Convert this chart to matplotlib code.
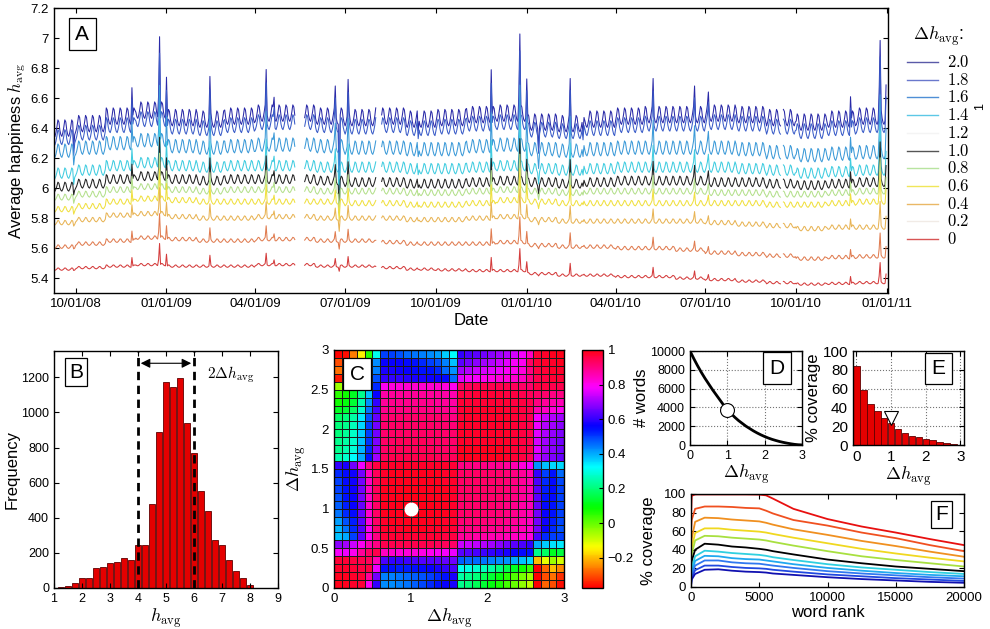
import numpy as np
import pandas as pd
import matplotlib
matplotlib.use('Agg')
import matplotlib.pyplot as plt
from matplotlib.lines import Line2D

plt.rcParams['font.family'] = ['Liberation Sans', 'DejaVu Sans']
plt.rcParams['mathtext.fontset'] = 'cm'
plt.rcParams['xtick.direction'] = 'in'
plt.rcParams['ytick.direction'] = 'in'
plt.rcParams['xtick.top'] = True
plt.rcParams['ytick.right'] = True
plt.rcParams['xtick.labelsize'] = 9.5
plt.rcParams['ytick.labelsize'] = 9.5
plt.rcParams['axes.linewidth'] = 1.0

# ---------------- panel A data: daily happiness time series ----------------
a_start, a_end = '2008-09-10', '2010-12-31'
a_months = pd.period_range('2008-09', '2010-12', freq='M')
# monthly levels (Sep 2008 .. Dec 2010)
lvl_20 = [6.40, 6.43, 6.48, 6.52, 6.47, 6.46, 6.48, 6.50, 6.50, 6.48, 6.47, 6.48, 6.46, 6.47,
          6.49, 6.50, 6.44, 6.43, 6.46, 6.48, 6.49, 6.49, 6.50, 6.49, 6.47, 6.44, 6.46, 6.48]
lvl_18 = [6.34, 6.37, 6.42, 6.46, 6.41, 6.40, 6.42, 6.44, 6.44, 6.42, 6.41, 6.42, 6.40, 6.41,
          6.43, 6.44, 6.39, 6.38, 6.40, 6.42, 6.43, 6.43, 6.44, 6.43, 6.41, 6.38, 6.40, 6.42]
lvl_16 = [6.25, 6.27, 6.30, 6.32, 6.28, 6.27, 6.28, 6.29, 6.29, 6.28, 6.27, 6.27, 6.26, 6.26,
          6.28, 6.29, 6.26, 6.25, 6.26, 6.27, 6.27, 6.27, 6.27, 6.26, 6.24, 6.22, 6.23, 6.24]
lvl_14 = [6.10, 6.12, 6.15, 6.17, 6.15, 6.14, 6.15, 6.15, 6.15, 6.14, 6.14, 6.14, 6.13, 6.13,
          6.14, 6.15, 6.13, 6.12, 6.13, 6.14, 6.14, 6.14, 6.14, 6.13, 6.12, 6.10, 6.11, 6.12]
lvl_10 = [6.01, 6.03, 6.06, 6.08, 6.06, 6.05, 6.06, 6.06, 6.06, 6.05, 6.04, 6.04, 6.03, 6.03,
          6.04, 6.05, 6.04, 6.03, 6.04, 6.05, 6.05, 6.05, 6.04, 6.04, 6.03, 6.02, 6.03, 6.04]
lvl_08 = [5.94, 5.96, 5.99, 6.01, 5.99, 5.98, 5.99, 5.99, 5.99, 5.98, 5.98, 5.98, 5.97, 5.97,
          5.98, 5.99, 5.98, 5.97, 5.98, 5.98, 5.98, 5.98, 5.97, 5.97, 5.96, 5.96, 5.97, 5.98]
lvl_06 = [5.86, 5.88, 5.91, 5.93, 5.92, 5.91, 5.91, 5.91, 5.91, 5.91, 5.90, 5.90, 5.89, 5.89,
          5.90, 5.92, 5.91, 5.90, 5.90, 5.90, 5.90, 5.90, 5.90, 5.90, 5.89, 5.89, 5.90, 5.91]
lvl_04 = [5.77, 5.79, 5.82, 5.83, 5.81, 5.80, 5.80, 5.81, 5.81, 5.80, 5.80, 5.80, 5.79, 5.79,
          5.80, 5.81, 5.79, 5.78, 5.78, 5.78, 5.78, 5.78, 5.77, 5.76, 5.75, 5.73, 5.74, 5.74]
lvl_02 = [5.61, 5.63, 5.65, 5.67, 5.66, 5.65, 5.65, 5.66, 5.66, 5.65, 5.65, 5.64, 5.63, 5.63,
          5.63, 5.64, 5.62, 5.61, 5.61, 5.60, 5.60, 5.59, 5.57, 5.56, 5.55, 5.53, 5.54, 5.545]
lvl_00 = [5.46, 5.47, 5.48, 5.49, 5.48, 5.48, 5.48, 5.49, 5.49, 5.48, 5.48, 5.47, 5.46, 5.455,
          5.45, 5.45, 5.43, 5.42, 5.42, 5.41, 5.41, 5.40, 5.39, 5.38, 5.37, 5.36, 5.365, 5.37]
a_levels = [lvl_20, lvl_18, lvl_16, lvl_14, lvl_10, lvl_08, lvl_06, lvl_04, lvl_02, lvl_00]
a_colors = ['#2a2aa8', '#3a5cc8', '#3c9ad8', '#40cce0', '#222222',
            '#b4e08c', '#f0e040', '#e8b455', '#e07c50', '#d43c3c']
# weekday shape Mon..Sun and amplitude of the weekly cycle per curve
weekday_shape = [-0.25, -0.8, -1.0, -0.55, 0.15, 1.0, 0.75]
weekly_amp = [0.055, 0.05, 0.045, 0.035, 0.03, 0.02, 0.018, 0.015, 0.012, 0.008]
# spikes (size on the top curve) and how strongly each curve follows them
events = [('2008-09-29', -0.12), ('2008-11-27', 0.22), ('2008-12-24', 0.15),
          ('2008-12-25', 0.52), ('2009-01-01', 0.30), ('2009-02-14', 0.23),
          ('2009-04-12', 0.25), ('2009-04-20', 0.12), ('2009-06-21', 0.16),
          ('2009-06-25', -0.50), ('2009-07-04', 0.20), ('2009-09-13', -0.12),
          ('2009-11-26', 0.33), ('2009-12-24', 0.15), ('2009-12-25', 0.52),
          ('2010-01-01', 0.28), ('2010-01-13', -0.12), ('2010-02-14', 0.26),
          ('2010-02-27', -0.12), ('2010-05-09', 0.20), ('2010-06-20', 0.15),
          ('2010-07-04', 0.10), ('2010-11-25', 0.18), ('2010-12-24', 0.15),
          ('2010-12-25', 0.45), ('2010-12-31', 0.20)]
up_scale = [1.0, 0.9, 0.75, 0.6, 0.53, 0.45, 0.4, 0.35, 0.32, 0.28]
down_scale = [1.0, 0.9, 0.7, 0.56, 0.4, 0.3, 0.24, 0.16, 0.1, 0.06]
gaps = [('2009-05-12', '2009-05-20'), ('2009-08-02', '2009-08-06'), ('2010-09-16', '2010-09-17')]
a_ticks = ['2008-10-01', '2009-01-01', '2009-04-01', '2009-07-01', '2009-10-01',
           '2010-01-01', '2010-04-01', '2010-07-01', '2010-10-01', '2011-01-01']
a_ticklabels = ['10/01/08', '01/01/09', '04/01/09', '07/01/09', '10/01/09',
                '01/01/10', '04/01/10', '07/01/10', '10/01/10', '01/01/11']
legend_labels = ['2.0', '1.8', '1.6', '1.4', '1.2', '1.0', '0.8', '0.6', '0.4', '0.2', '0']
legend_colors = ['#5a5aa8', '#6a78cc', '#4f8fd6', '#5cc8e6', '#f4f4f4', '#555555',
                 '#b8e4a0', '#f0e65a', '#eab866', '#f1ebe6', '#d85555']

# ---------------- panel B: histogram of word happiness ----------------
b_centers = [1.25, 1.5, 1.75, 2.0, 2.25, 2.5, 2.75, 3.0, 3.25, 3.5, 3.75, 4.0, 4.25, 4.5,
             4.75, 5.0, 5.25, 5.5, 5.75, 6.0, 6.25, 6.5, 6.75, 7.0, 7.25, 7.5, 7.75, 8.0]
b_counts = [3, 11, 27, 59, 55, 114, 118, 140, 148, 171, 158, 247, 247, 477,
            889, 1174, 1145, 1197, 942, 771, 553, 437, 275, 243, 158, 99, 59, 15]

# ---------------- panel C: correlation matrix (rows from top, dh 2.9-3.0 first) ----------------
c_rows = [
    [-0.37, -0.36, -0.26, -0.15, 0.06, 0.31, 0.5, 0.5, 0.48, 0.46, 0.45, 0.44, 0.43, 0.41, 0.37, 0.32, 0.6, 0.62, 0.64, 0.66, 0.68, 0.7, 0.72, 0.75, 0.78, 0.84, 0.97, 0.98, 0.99, 1.0],
    [-0.3, -0.3, -0.22, -0.1, 0.1, 0.43, 0.56, 0.56, 0.56, 0.55, 0.54, 0.52, 0.5, 0.48, 0.44, 0.38, 0.64, 0.66, 0.68, 0.7, 0.72, 0.74, 0.76, 0.78, 0.8, 0.93, 0.97, 0.98, 0.98, 0.99],
    [-0.27, -0.22, -0.12, 0.0, 0.15, 0.44, 0.58, 0.58, 0.57, 0.56, 0.55, 0.54, 0.54, 0.52, 0.46, 0.42, 0.7, 0.72, 0.74, 0.75, 0.76, 0.77, 0.79, 0.8, 0.82, 0.9, 0.96, 0.97, 0.98, 0.98],
    [-0.35, -0.2, -0.05, 0.05, 0.2, 0.48, 0.6, 0.6, 0.6, 0.59, 0.58, 0.58, 0.57, 0.56, 0.55, 0.46, 0.76, 0.78, 0.79, 0.8, 0.81, 0.82, 0.82, 0.83, 0.84, 0.9, 0.95, 0.96, 0.97, 0.97],
    [-0.05, 0.0, 0.05, 0.15, 0.3, 0.52, 0.8, 0.82, 0.82, 0.83, 0.83, 0.83, 0.83, 0.83, 0.82, 0.8, 0.93, 0.94, 0.95, 0.95, 0.95, 0.95, 0.95, 0.94, 0.93, 0.92, 0.96, 0.96, 0.95, 0.95],
    [0.05, 0.08, 0.12, 0.22, 0.38, 0.56, 0.87, 0.88, 0.88, 0.88, 0.88, 0.88, 0.88, 0.88, 0.87, 0.86, 0.96, 0.96, 0.97, 0.97, 0.97, 0.97, 0.96, 0.96, 0.95, 0.94, 0.93, 0.92, 0.9, 0.9],
    [0.08, 0.1, 0.14, 0.25, 0.42, 0.6, 0.88, 0.89, 0.89, 0.89, 0.89, 0.89, 0.89, 0.88, 0.88, 0.87, 0.97, 0.97, 0.97, 0.97, 0.97, 0.97, 0.97, 0.96, 0.96, 0.95, 0.9, 0.88, 0.86, 0.85],
    [0.12, 0.14, 0.18, 0.28, 0.45, 0.62, 0.89, 0.9, 0.9, 0.9, 0.9, 0.9, 0.9, 0.89, 0.89, 0.88, 0.97, 0.98, 0.98, 0.98, 0.98, 0.98, 0.97, 0.97, 0.96, 0.95, 0.86, 0.84, 0.82, 0.8],
    [0.18, 0.2, 0.24, 0.34, 0.48, 0.65, 0.91, 0.92, 0.92, 0.92, 0.92, 0.92, 0.92, 0.92, 0.91, 0.9, 0.97, 0.98, 0.98, 0.98, 0.98, 0.98, 0.98, 0.97, 0.96, 0.95, 0.78, 0.74, 0.72, 0.7],
    [0.2, 0.22, 0.26, 0.36, 0.5, 0.66, 0.92, 0.93, 0.93, 0.93, 0.93, 0.93, 0.93, 0.92, 0.92, 0.91, 0.98, 0.98, 0.98, 0.98, 0.98, 0.98, 0.98, 0.97, 0.96, 0.95, 0.77, 0.72, 0.7, 0.68],
    [0.2, 0.23, 0.27, 0.37, 0.5, 0.66, 0.92, 0.93, 0.93, 0.93, 0.93, 0.93, 0.93, 0.93, 0.92, 0.92, 0.98, 0.98, 0.98, 0.98, 0.98, 0.98, 0.98, 0.97, 0.96, 0.95, 0.76, 0.71, 0.69, 0.67],
    [0.22, 0.24, 0.28, 0.38, 0.51, 0.67, 0.93, 0.93, 0.94, 0.94, 0.94, 0.94, 0.93, 0.93, 0.93, 0.92, 0.98, 0.98, 0.98, 0.98, 0.98, 0.98, 0.98, 0.97, 0.96, 0.95, 0.75, 0.7, 0.68, 0.66],
    [0.22, 0.25, 0.29, 0.39, 0.52, 0.68, 0.93, 0.94, 0.94, 0.94, 0.94, 0.94, 0.94, 0.93, 0.93, 0.93, 0.99, 0.99, 0.99, 0.99, 0.99, 0.99, 0.98, 0.97, 0.96, 0.95, 0.76, 0.7, 0.68, 0.66],
    [0.25, 0.28, 0.32, 0.4, 0.54, 0.7, 0.94, 0.95, 0.95, 0.95, 0.95, 0.95, 0.95, 0.94, 0.94, 0.94, 0.99, 0.99, 0.99, 0.99, 0.99, 0.99, 0.98, 0.97, 0.96, 0.94, 0.74, 0.69, 0.67, 0.65],
    [0.6, 0.58, 0.66, 0.77, 0.9, 0.96, 0.98, 0.98, 0.98, 0.98, 0.98, 0.98, 0.98, 0.98, 0.98, 0.97, 0.9, 0.9, 0.9, 0.9, 0.89, 0.89, 0.88, 0.86, 0.82, 0.78, 0.42, 0.38, 0.36, 0.36],
    [0.52, 0.55, 0.57, 0.66, 0.84, 0.94, 0.98, 0.99, 0.99, 0.99, 0.99, 0.99, 0.99, 0.99, 0.98, 0.98, 0.93, 0.93, 0.93, 0.93, 0.92, 0.92, 0.91, 0.9, 0.88, 0.86, 0.6, 0.5, 0.54, 0.46],
    [0.5, 0.55, 0.57, 0.66, 0.84, 0.94, 0.98, 0.99, 0.99, 0.99, 0.99, 0.99, 0.99, 0.99, 0.98, 0.98, 0.93, 0.93, 0.93, 0.93, 0.92, 0.92, 0.91, 0.9, 0.88, 0.86, 0.62, 0.52, 0.55, 0.49],
    [0.5, 0.54, 0.57, 0.66, 0.84, 0.94, 0.99, 0.99, 0.99, 1.0, 1.0, 0.99, 0.99, 0.99, 0.99, 0.98, 0.93, 0.93, 0.93, 0.93, 0.92, 0.92, 0.91, 0.9, 0.88, 0.86, 0.63, 0.53, 0.55, 0.5],
    [0.48, 0.54, 0.56, 0.66, 0.84, 0.94, 0.99, 0.99, 1.0, 1.0, 1.0, 1.0, 0.99, 0.99, 0.99, 0.98, 0.93, 0.93, 0.93, 0.93, 0.92, 0.92, 0.91, 0.9, 0.88, 0.86, 0.64, 0.54, 0.55, 0.5],
    [0.47, 0.53, 0.56, 0.65, 0.83, 0.93, 0.99, 0.99, 1.0, 1.0, 1.0, 1.0, 1.0, 0.99, 0.99, 0.98, 0.92, 0.92, 0.92, 0.92, 0.92, 0.91, 0.9, 0.89, 0.87, 0.85, 0.65, 0.55, 0.54, 0.5],
    [0.45, 0.52, 0.55, 0.65, 0.83, 0.93, 0.99, 0.99, 0.99, 1.0, 1.0, 1.0, 0.99, 0.99, 0.99, 0.98, 0.92, 0.92, 0.92, 0.92, 0.91, 0.91, 0.9, 0.89, 0.87, 0.85, 0.66, 0.56, 0.54, 0.5],
    [0.41, 0.48, 0.53, 0.64, 0.82, 0.93, 0.98, 0.99, 0.99, 0.99, 0.99, 0.99, 0.99, 0.99, 0.98, 0.98, 0.91, 0.91, 0.91, 0.91, 0.9, 0.9, 0.89, 0.88, 0.86, 0.84, 0.66, 0.57, 0.53, 0.49],
    [0.39, 0.45, 0.52, 0.63, 0.8, 0.92, 0.98, 0.98, 0.98, 0.99, 0.99, 0.99, 0.98, 0.98, 0.98, 0.97, 0.9, 0.9, 0.9, 0.9, 0.89, 0.89, 0.88, 0.87, 0.85, 0.83, 0.66, 0.56, 0.52, 0.48],
    [0.38, 0.4, 0.5, 0.64, 0.8, 0.9, 0.97, 0.97, 0.97, 0.97, 0.97, 0.97, 0.97, 0.97, 0.96, 0.96, 0.88, 0.88, 0.87, 0.87, 0.86, 0.86, 0.85, 0.84, 0.83, 0.82, 0.62, 0.52, 0.5, 0.5],
    [0.68, 0.7, 0.74, 0.8, 0.86, 0.9, 0.95, 0.95, 0.95, 0.95, 0.95, 0.95, 0.95, 0.94, 0.94, 0.93, 0.74, 0.74, 0.73, 0.72, 0.7, 0.68, 0.66, 0.64, 0.62, 0.6, 0.4, 0.37, 0.35, 0.34],
    [0.78, 0.77, 0.8, 0.88, 0.93, 0.95, 0.84, 0.83, 0.82, 0.82, 0.82, 0.81, 0.8, 0.79, 0.78, 0.77, 0.64, 0.63, 0.62, 0.61, 0.6, 0.59, 0.58, 0.56, 0.55, 0.54, 0.22, 0.18, 0.12, 0.15],
    [0.97, 0.97, 0.96, 0.95, 0.94, 0.85, 0.62, 0.6, 0.6, 0.61, 0.62, 0.63, 0.63, 0.64, 0.65, 0.66, 0.47, 0.46, 0.46, 0.45, 0.44, 0.43, 0.42, 0.4, 0.38, 0.36, -0.2, -0.12, -0.05, -0.1],
    [0.98, 0.98, 0.97, 0.96, 0.96, 0.77, 0.54, 0.54, 0.53, 0.53, 0.54, 0.55, 0.56, 0.58, 0.6, 0.62, 0.31, 0.3, 0.28, 0.26, 0.24, 0.2, 0.16, 0.12, 0.08, 0.04, -0.37, -0.28, -0.2, -0.25],
    [0.99, 0.99, 0.98, 0.97, 0.88, 0.66, 0.44, 0.44, 0.45, 0.46, 0.47, 0.48, 0.5, 0.52, 0.54, 0.58, 0.24, 0.22, 0.2, 0.17, 0.14, 0.1, 0.06, 0.02, -0.02, -0.05, -0.37, -0.3, -0.27, -0.33],
    [1.0, 0.99, 0.98, 0.97, 0.8, 0.6, 0.43, 0.43, 0.44, 0.45, 0.47, 0.49, 0.52, 0.54, 0.56, 0.58, 0.22, 0.2, 0.17, 0.14, 0.1, 0.07, 0.03, 0.0, -0.04, -0.08, -0.37, -0.28, -0.3, -0.36],
]
c_edges = [0, 0.1, 0.2, 0.3, 0.4, 0.5, 0.6, 0.7, 0.8, 0.9, 1.0, 1.1, 1.2, 1.3, 1.4, 1.5,
           1.6, 1.7, 1.8, 1.9, 2.0, 2.1, 2.2, 2.3, 2.4, 2.5, 2.6, 2.7, 2.8, 2.9, 3.0]

# ---------------- panel D: number of words outside the band ----------------
d_dh = [0, 0.1, 0.2, 0.3, 0.4, 0.5, 0.6, 0.7, 0.8, 0.9, 1.0, 1.1, 1.2, 1.3, 1.4, 1.5,
        1.6, 1.7, 1.8, 1.9, 2.0, 2.1, 2.2, 2.3, 2.4, 2.5, 2.6, 2.7, 2.8, 2.9, 3.0]
d_words = [10000, 9200, 8450, 7750, 7100, 6500, 5900, 5350, 4800, 4250, 3750, 3350, 2950,
           2600, 2300, 2000, 1750, 1500, 1280, 1080, 900, 740, 600, 480, 370, 280, 200,
           130, 70, 30, 10]

# ---------------- panel E: coverage vs dh ----------------
e_dh = [0, 0.2, 0.4, 0.6, 0.8, 1.0, 1.2, 1.4, 1.6, 1.8, 2.0, 2.2, 2.4, 2.6, 2.8, 3.0]
e_cov = [84, 59, 44, 36, 29, 23, 17, 13, 9.5, 8, 6, 5, 3.2, 2, 1, 0.3]

# ---------------- panel F: coverage vs word rank ----------------
f_rank = [0, 50, 300, 1000, 2000, 3000, 4000, 5000, 5500, 6000, 7500, 10000, 12500, 15000, 17500, 20000]
f_cov = [
    [75, 98, 99.5, 99.5, 99.5, 99.5, 99.5, 99.3, 98.5, 95, 84, 73, 65, 58.5, 51.5, 45],
    [60, 72, 84, 86.5, 86.5, 86, 85, 84.5, 82, 79, 72, 66, 58.5, 52.5, 45, 38.5],
    [40, 52, 70, 74.5, 74, 72.5, 71.5, 70.5, 69, 67, 62, 56, 49.5, 44, 38, 32.5],
    [30, 42, 58, 63, 63, 61.5, 60.5, 59.5, 58.5, 57, 53, 47, 41, 36, 31.5, 27.5],
    [20, 35, 50, 55, 54.5, 53, 52, 51, 50, 48.5, 44.5, 38.5, 33, 29, 25.5, 22],
    [12, 28, 40, 46.5, 45.5, 43.5, 42.5, 41, 40, 38.5, 35, 29.5, 25.5, 22, 19.5, 17],
    [8, 20, 33, 39, 38, 36.5, 35.5, 34.5, 33.5, 32, 29, 24.5, 21, 18.5, 16, 14],
    [5, 15, 28, 33.5, 33, 31, 30, 29.5, 28.5, 27.5, 24.5, 20.5, 17.5, 15, 13, 11.5],
    [3, 12, 23, 28.5, 28.5, 26.5, 25.5, 25, 24, 23, 20.5, 17, 14.5, 12.5, 10.5, 9],
    [2, 10, 18, 23, 23, 21.5, 20.5, 20, 19.5, 18.5, 16.5, 13.5, 11.5, 9.5, 8, 6.5],
    [1, 8, 14, 18.5, 19, 17.5, 16.5, 16, 15.5, 14.5, 13, 10.5, 8.5, 7, 5.5, 4.5],
]
f_colors = ['#e81010', '#f05020', '#f09020', '#f0d820', '#a8e040', '#000000',
            '#30d0e0', '#20a8f0', '#3078f0', '#2048e0', '#1010b0']


def panel_label(ax, s, x, y, pad=0.3):
    ax.text(x, y, s, transform=ax.transAxes, fontsize=15, ha='center', va='center', zorder=20,
            bbox=dict(boxstyle='square,pad=%g' % pad, fc='white', ec='black', lw=0.9))


fig = plt.figure(figsize=(9.9, 6.29), dpi=100)

# ---------------- A ----------------
axA = fig.add_axes([0.0545, 0.534, 0.8425, 0.453])
days = pd.date_range(a_start, a_end, freq='D')
pos = a_months.get_indexer(days.to_period('M'))
wk = np.array(weekday_shape)[days.dayofweek]
for k in range(len(a_levels)):
    y = np.array(a_levels[k])[pos] + weekly_amp[k] * wk
    for d, h in events:
        sc = up_scale[k] if h > 0 else down_scale[k]
        y[days == pd.Timestamp(d)] += h * sc
    for g0, g1 in gaps:
        y[(days >= pd.Timestamp(g0)) & (days <= pd.Timestamp(g1))] = np.nan
    axA.plot(days, y, color=a_colors[k], lw=0.75)
axA.set_xlim(pd.Timestamp('2008-09-09'), pd.Timestamp('2011-01-02'))
axA.set_ylim(5.3, 7.2)
axA.set_xticks(pd.to_datetime(a_ticks))
axA.set_xticklabels(a_ticklabels)
axA.set_yticks([5.4, 5.6, 5.8, 6.0, 6.2, 6.4, 6.6, 6.8, 7.0, 7.2])
axA.set_yticklabels(['5.4', '5.6', '5.8', '6', '6.2', '6.4', '6.6', '6.8', '7', '7.2'])
axA.set_xlabel('Date', fontsize=12, labelpad=2)
axA.set_ylabel(r'Average happiness $h_{\rm avg}$', fontsize=12, labelpad=2)
panel_label(axA, 'A', 0.034, 0.909)

# legend for A, drawn in figure coordinates
fig.text(913 / 990, 1 - 36 / 629, r'$\Delta h_{\rm avg}$:', fontsize=13, ha='left', va='center')
for k, (lab, col) in enumerate(zip(legend_labels, legend_colors)):
    yy = 1 - (62 + 17.7 * k) / 629
    fig.add_artist(Line2D([907 / 990, 938 / 990], [yy, yy], color=col, lw=1.0,
                          transform=fig.transFigure))
    fig.text(947 / 990, yy, '$%s$' % lab, fontsize=12, ha='left', va='center')
fig.text(0.99, 1 - 107 / 629, '1', rotation=90, fontsize=9, ha='center', va='center')

# ---------------- B ----------------
axB = fig.add_axes([0.0545, 0.0652, 0.2263, 0.3768])
axB.bar(b_centers, b_counts, width=0.24, color='#e40000', edgecolor='#600000', lw=0.6)
axB.axvline(4, color='k', lw=2, ls=(0, (3, 2)))
axB.axvline(6, color='k', lw=2, ls=(0, (3, 2)))
axB.annotate('', xy=(4, 1280), xytext=(6, 1280),
             arrowprops=dict(arrowstyle='<|-|>', color='k', lw=0.8, mutation_scale=14))
axB.text(6.45, 1215, r'$2\Delta h_{\rm avg}$', fontsize=11, ha='left', va='center')
axB.set_xlim(1, 9)
axB.set_ylim(0, 1350)
axB.set_xticks(range(1, 10))
axB.set_yticks(range(0, 1201, 200))
axB.tick_params(labelsize=9)
axB.set_xlabel(r'$h_{\rm avg}$', fontsize=13, labelpad=1)
axB.set_ylabel('Frequency', fontsize=12, labelpad=1)
panel_label(axB, 'B', 0.098, 0.911, pad=0.2)

# ---------------- C ----------------
axC = fig.add_axes([0.3374, 0.0652, 0.2323, 0.3784])
c_mat = np.array(c_rows)[::-1]
mesh = axC.pcolormesh(c_edges, c_edges, c_mat, cmap='hsv', vmin=-0.375, vmax=1,
                      edgecolors='#1a1a1a', linewidth=0.4)
axC.plot([1.0], [1.0], 'o', ms=9, mfc='white', mec='white')
axC.set_xlim(0, 3)
axC.set_ylim(0, 3)
axC.set_xticks([0, 1, 2, 3])
axC.set_yticks([0, 0.5, 1, 1.5, 2, 2.5, 3])
axC.set_yticklabels(['0', '0.5', '1', '1.5', '2', '2.5', '3'])
axC.tick_params(length=0)
axC.set_xlabel(r'$\Delta h_{\rm avg}$', fontsize=13, labelpad=1)
axC.set_ylabel(r'$\Delta h_{\rm avg}$', fontsize=13, labelpad=2)
panel_label(axC, 'C', 0.1, 0.899)

cax = fig.add_axes([0.5879, 0.0652, 0.0212, 0.3784])
cb = fig.colorbar(mesh, cax=cax)
cb.set_ticks([-0.2, 0, 0.2, 0.4, 0.6, 0.8, 1])
cb.set_ticklabels(['\u22120.2', '0', '0.2', '0.4', '0.6', '0.8', '1'])
cb.ax.tick_params(direction='in', length=3, labelsize=9.5)
cb.outline.set_linewidth(1.0)

# ---------------- D ----------------
axD = fig.add_axes([0.697, 0.2925, 0.1131, 0.1494])
axD.plot(d_dh, d_words, color='k', lw=2)
axD.plot([1.0], [3730], 'o', ms=10, mfc='white', mec='k', mew=0.8)
axD.set_xlim(0, 3)
axD.set_ylim(0, 10000)
axD.set_xticks([0, 1, 2, 3])
axD.set_yticks(range(0, 10001, 2000))
axD.grid(True, ls=':', color='0.45', lw=0.8)
axD.tick_params(labelsize=9)
axD.set_xlabel(r'$\Delta h_{\rm avg}$', fontsize=13, labelpad=0)
axD.set_ylabel('# words', fontsize=12, labelpad=1)
panel_label(axD, 'D', 0.777, 0.819)

# ---------------- E ----------------
axE = fig.add_axes([0.8616, 0.2925, 0.1121, 0.1494])
axE.bar(e_dh, e_cov, width=0.19, color='#e40000', edgecolor='#600000', lw=0.6)
axE.plot([1.0], [29], 'v', ms=10, mfc='white', mec='k', mew=0.8)
axE.set_xlim(-0.1, 3.1)
axE.set_ylim(0, 100)
axE.set_xticks([0, 1, 2, 3])
axE.set_yticks(range(0, 101, 20))
axE.grid(True, ls=':', color='0.45', lw=0.8)
axE.set_axisbelow(True)
axE.tick_params(labelsize=11)
axE.set_xlabel(r'$\Delta h_{\rm avg}$', fontsize=13, labelpad=0)
axE.set_ylabel('% coverage', fontsize=12, labelpad=1)
panel_label(axE, 'E', 0.77, 0.814)

# ---------------- F ----------------
axF = fig.add_axes([0.698, 0.0668, 0.2758, 0.1479])
for k in range(len(f_cov)):
    axF.plot(f_rank, f_cov[k], color=f_colors[k], lw=1.3)
axF.set_xlim(0, 20000)
axF.set_ylim(0, 100)
axF.set_xticks(range(0, 20001, 5000))
axF.set_yticks(range(0, 101, 20))
axF.tick_params(labelsize=9.5)
axF.set_xlabel('word rank', fontsize=12, labelpad=1)
axF.set_ylabel('% coverage', fontsize=12, labelpad=6)
panel_label(axF, 'F', 0.919, 0.78, pad=0.2)

fig.savefig('out.png', dpi=100)
